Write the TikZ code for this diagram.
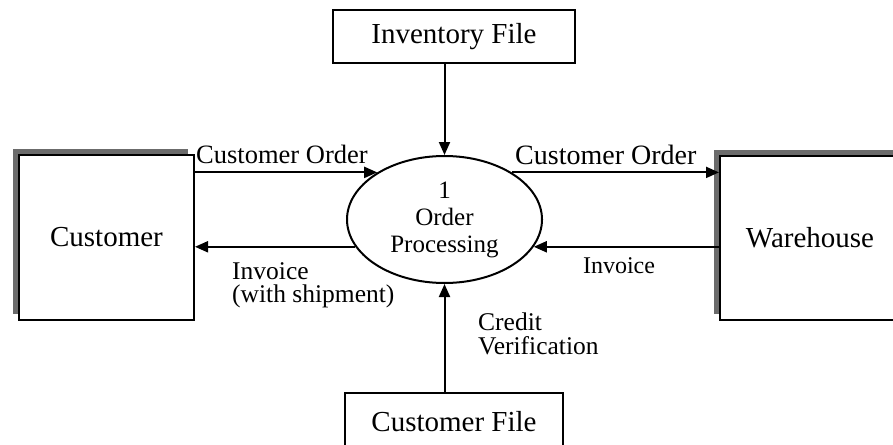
\documentclass[tikz,border=0pt]{standalone}
\usepackage{fontspec}
\setmainfont{Liberation Serif}
\usetikzlibrary{arrows.meta,shapes.geometric,shadows}

\begin{document}
\begin{tikzpicture}[x=1pt,y=-1pt,
  entity/.style={draw=black, line width=2pt, fill=white, inner sep=0pt,
    font=\fontsize{29}{32}\selectfont,
    general shadow={fill=black!58, shadow xshift=-6pt, shadow yshift=6pt}},
  store/.style={draw=black, line width=2pt, fill=white, inner sep=0pt,
    font=\fontsize{29}{32}\selectfont},
  procbox/.style={ellipse, draw=black, line width=2pt, fill=white, inner sep=0pt,
    minimum width=195pt, minimum height=127pt, align=center,
    font=\fontsize{25}{27}\selectfont},
  flow/.style={line width=2pt, -{Triangle[length=13pt,width=11pt]}},
  lbl/.style={inner sep=0pt, align=left, font=\fontsize{26.5}{25}\selectfont}
]
\useasboundingbox (0,0) rectangle (893,444);
\clip (0,0) rectangle (893,444);

% external entities
\node[entity, minimum width=175pt, minimum height=165pt] (cust) at (106.5,237.5) {Customer};
\node[entity, minimum width=180pt, minimum height=164pt] (wh) at (810,238) {Warehouse};

% data stores
\node[store, minimum width=242pt, minimum height=53pt] (inv) at (454,36.5) {Inventory File};
\node[store, minimum width=218pt, minimum height=57pt] (cf) at (454,421.5) {Customer File};

% process
\node[procbox] (proc) at (444.5,219.5) {1\\Order\\Processing};

% data flows
\draw[flow] (proc.north |- inv.south) -- (proc.north);
\draw[flow] (proc.south |- cf.north) -- (proc.south);
\draw[flow] (cust.east |- proc.145) -- (proc.145);
\draw[flow] (proc.197.7) -- (cust.east |- proc.197.7);
\draw[flow] (proc.35) -- (wh.west |- proc.35);
\draw[flow] (wh.west |- proc.-17.7) -- (proc.-17.7);

% flow labels
\node[lbl, anchor=base west] (lco) at (196,163) {Customer Order};
\node[lbl, anchor=base west, font=\fontsize{28}{30}\selectfont] (rco) at (515,164) {Customer Order};
\node[lbl, anchor=north west, font=\fontsize{25.5}{23.5}\selectfont] (linv) at (232,262) {Invoice\\(with shipment)};
\node[lbl, anchor=base, font=\fontsize{24}{26}\selectfont] (rinv) at (619,273) {Invoice};
\node[lbl, anchor=north west, font=\fontsize{25.5}{23.5}\selectfont] (cred) at (478,313) {Credit\\Verification};
\end{tikzpicture}
\end{document}
